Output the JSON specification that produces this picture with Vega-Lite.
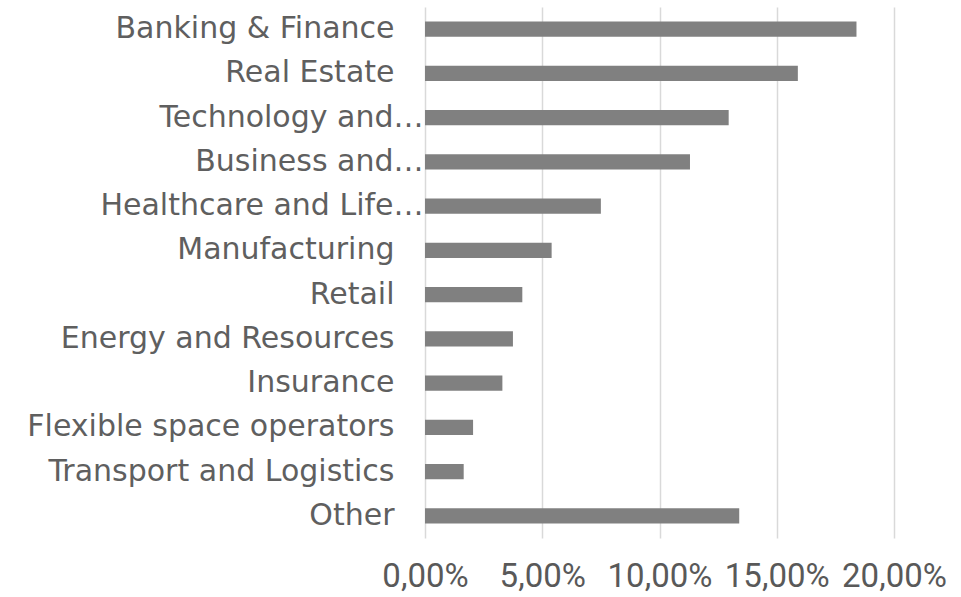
{
  "$schema": "https://vega.github.io/schema/vega-lite/v6.json",
  "autosize": {"type": "none"},
  "padding": {"left": 425, "top": 7, "right": 67, "bottom": 59},
  "width": 469,
  "height": 531,
  "background": "white",
  "data": {
    "values": [
      {"sector": "Banking & Finance", "share": 0.184},
      {"sector": "Real Estate", "share": 0.159},
      {"sector": "Technology and…", "share": 0.1295},
      {"sector": "Business and…", "share": 0.113},
      {"sector": "Healthcare and Life…", "share": 0.075},
      {"sector": "Manufacturing", "share": 0.054},
      {"sector": "Retail", "share": 0.0415},
      {"sector": "Energy and Resources", "share": 0.0375},
      {"sector": "Insurance", "share": 0.033},
      {"sector": "Flexible space operators", "share": 0.0205},
      {"sector": "Transport and Logistics", "share": 0.0165},
      {"sector": "Other", "share": 0.134}
    ]
  },
  "mark": {"type": "bar", "color": "#808080"},
  "encoding": {
    "y": {
      "field": "sector",
      "type": "nominal",
      "sort": null,
      "scale": {"paddingInner": 0.655, "paddingOuter": 0.3275},
      "axis": {
        "title": null,
        "domain": false,
        "ticks": false,
        "grid": false,
        "labelFont": "DejaVu Sans",
        "labelFontSize": 30,
        "labelColor": "#5f5f5f",
        "labelPadding": {"condition": {"test": "indexof(datum.label, '…') >= 0", "value": 2}, "value": 31},
        "labelLimit": 500
      }
    },
    "x": {
      "field": "share",
      "type": "quantitative",
      "scale": {"domain": [0, 0.2], "nice": false},
      "axis": {
        "title": null,
        "values": [0, 0.05, 0.1, 0.15, 0.2],
        "domain": false,
        "ticks": false,
        "grid": true,
        "gridColor": "#d9d9d9",
        "gridWidth": 1.5,
        "labelFont": "Roboto",
        "labelFontSize": 33,
        "labelColor": "#595959",
        "labelPadding": 22,
        "labelFlush": false,
        "labelOverlap": false,
        "labelExpr": "replace(format(datum.value, '.2%'), '.', ',')"
      }
    }
  },
  "config": {"view": {"stroke": null}}
}
